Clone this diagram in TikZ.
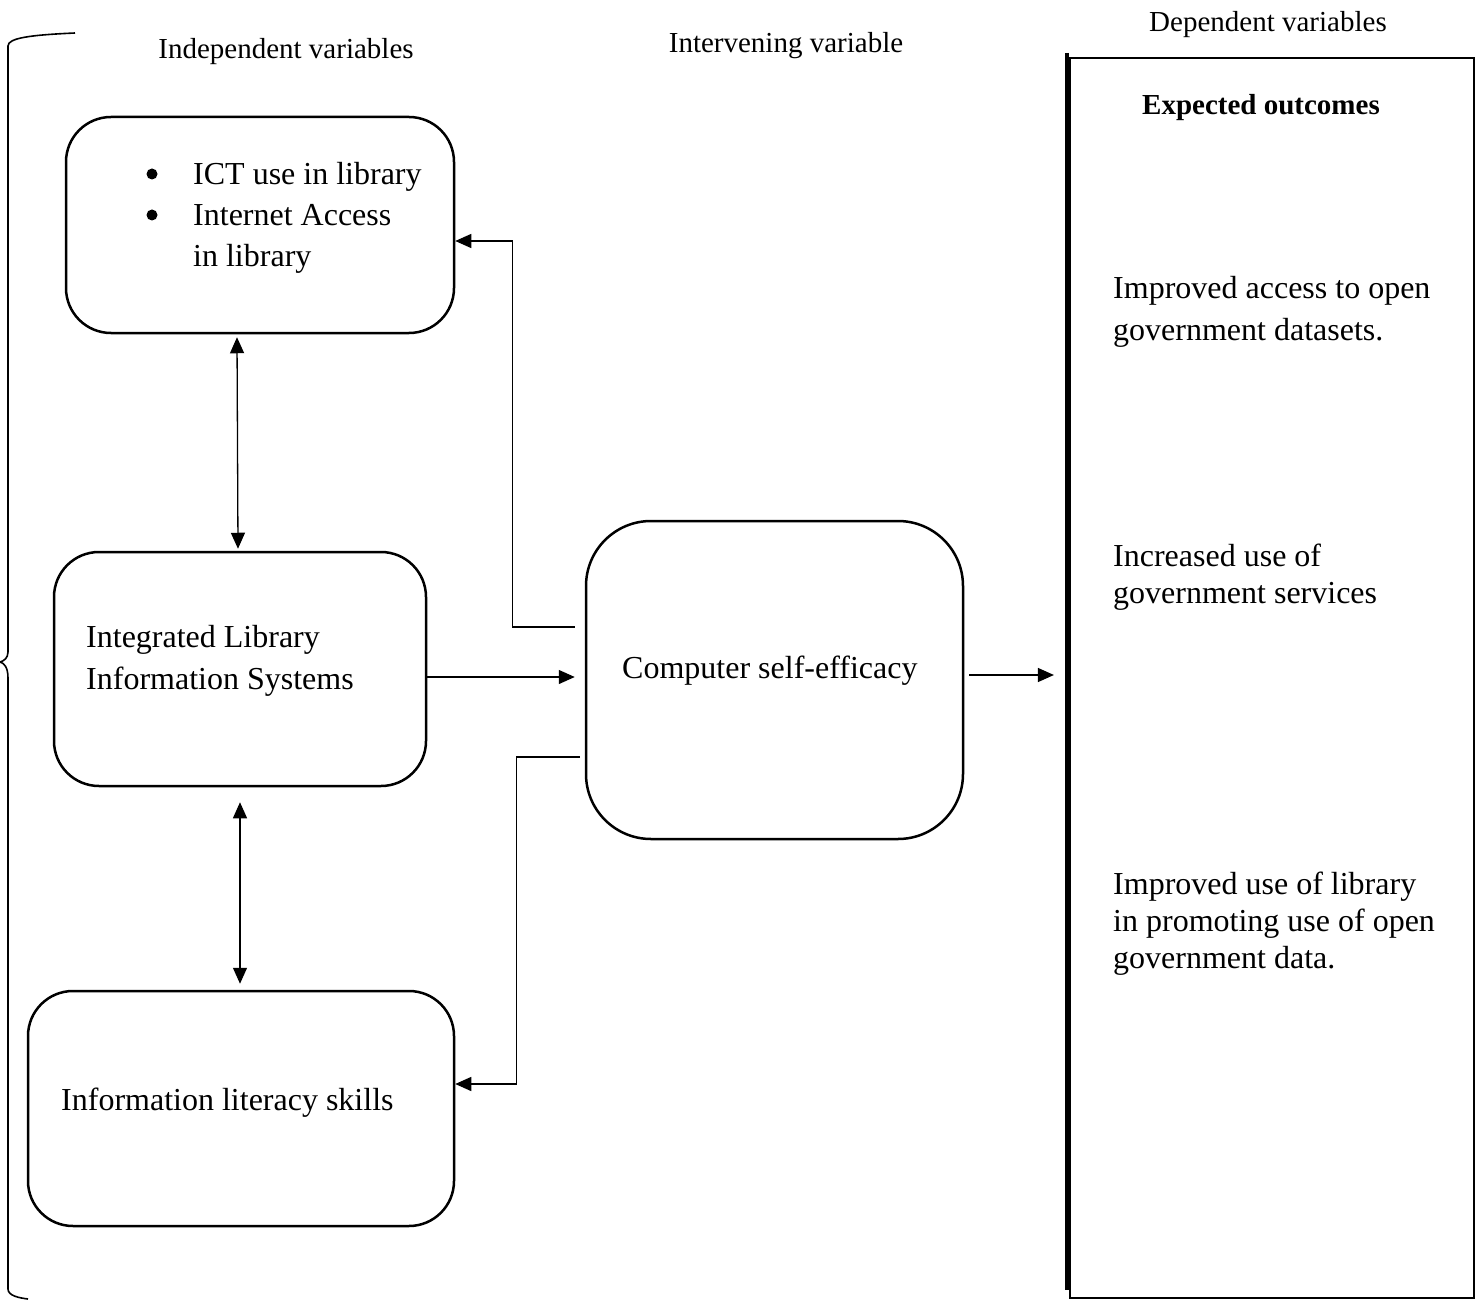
\documentclass[tikz,border=0pt]{standalone}
\usepackage{fontspec}
\setmainfont{Liberation Serif}
\usetikzlibrary{arrows.meta}
\begin{document}
\begin{tikzpicture}[x=1pt,y=-1pt,
  box/.style={draw, line width=2.5pt, inner sep=0pt},
  main/.style={font=\fontsize{32}{42}\selectfont, align=left, inner sep=0pt, anchor=base west},
  tight/.style={font=\fontsize{32}{37}\selectfont},
  lab/.style={font=\fontsize{29}{33}\selectfont, inner sep=0pt, anchor=base},
  bul/.style={circle, fill, inner sep=0pt, minimum size=11pt},
  conn/.style={line width=1.3pt},
  tip/.style={conn, -{Triangle[length=16pt,width=14pt]}},
  dbl/.style={conn, {Triangle[length=16pt,width=14pt]}-{Triangle[length=16pt,width=14pt]}},
  ]
\useasboundingbox (0,0) rectangle (1481,1300);

% brace
\draw[line width=1.6pt] (75,33) .. controls (30,35) and (8,38) .. (8,46) -- (8,652)
  .. controls (8,658) and (4,661) .. (0,662) .. controls (4,663) and (8,667) .. (8,678)
  -- (8,1289) .. controls (8,1296) and (20,1298) .. (28,1299);

% headings
\node[lab] (hind) at (286,59) {Independent variables};
\node[lab] (hint) at (786,53) {Intervening variable};
\node[lab] (hdep) at (1268,32) {Dependent variables};

% boxes
\node[box, rounded corners=45pt, minimum width=388pt, minimum height=216pt] (ict) at (260,225) {};
\node[box, rounded corners=45pt, minimum width=372pt, minimum height=234pt] (ilis) at (240,669) {};
\node[box, rounded corners=45pt, minimum width=426pt, minimum height=235pt] (lit) at (241,1108.5) {};
\node[box, rounded corners=65pt, minimum width=377pt, minimum height=318pt] (cse) at (774.5,680) {};

% outcome box
\node[draw, line width=2.2pt, inner sep=0pt, minimum width=404pt, minimum height=1240pt] (out) at (1272,678) {};
\draw[line width=4pt] (1067,53) -- (1067,1290);

% box texts (base anchor = baseline of the last line)
\node[bul] (b1) at (152,174) {};
\node[bul] (b2) at (152,215) {};
\node[main] (t1) at (193,185) {ICT use in library};
\node[main, font=\fontsize{32}{41}\selectfont] (t2) at (193,267) {Internet Access\\in library};
\node[main] (t3) at (86,689) {Integrated Library\\Information Systems};
\node[main] (t4) at (61,1110) {Information literacy skills};
\node[main] (t5) at (622,678) {Computer self-efficacy};

\node[lab, font=\bfseries\fontsize{29}{33}\selectfont] (exp) at (1261,115) {Expected outcomes};
\node[main] (o1) at (1113,340) {Improved access to open\\government datasets.};
\node[main, tight] (o2) at (1113,603) {Increased use of\\government services};
\node[main, tight] (o3) at (1113,968) {Improved use of library\\in promoting use of open\\government data.};

% connectors
\draw[dbl] ([xshift=-23pt,yshift=-3pt]ict.south) -- ([xshift=-2pt,yshift=2pt]ilis.north);
\draw[dbl] ([yshift=-15pt]ilis.south) -- ([xshift=-1pt,yshift=6pt]lit.north);
\draw[tip] ([yshift=-8pt,xshift=-2pt]ilis.east) -- ([yshift=3pt,xshift=-10pt]cse.west);
\draw[tip] ([xshift=5pt,yshift=5pt]cse.east) -- ([xshift=-15pt,yshift=3pt]out.west);
\draw[tip] ([xshift=-10pt,yshift=53pt]cse.west) -- ++(-62,0) |- ([yshift=-16pt]ict.east);
\draw[tip] ([xshift=-5pt,yshift=-77pt]cse.west) -- ++(-63,0) |- ([yshift=24.5pt]lit.east);
\end{tikzpicture}
\end{document}
